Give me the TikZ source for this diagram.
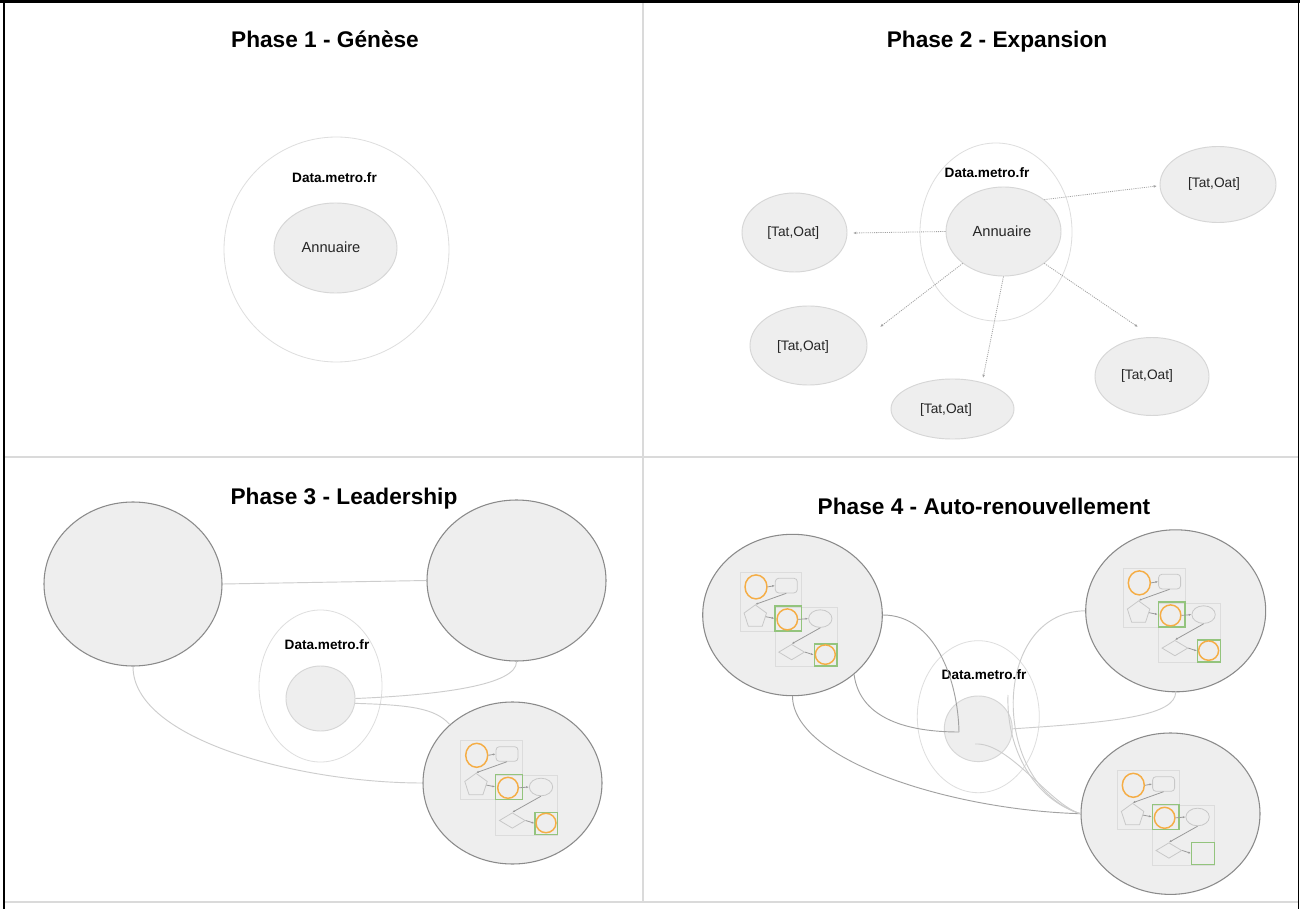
\documentclass[tikz,border=0pt]{standalone}
\usepackage{fontspec}
\setmainfont{Liberation Sans}
\usetikzlibrary{shapes.geometric, arrows.meta}
\definecolor{fillg}{HTML}{EEEEEE}
\definecolor{edgeL}{HTML}{D6D6D6}
\definecolor{ringc}{HTML}{DEDEDE}
\definecolor{bigedge}{HTML}{8A8A8A}
\definecolor{connL}{HTML}{CDCDCD}
\definecolor{connD}{HTML}{A2A2A2}
\definecolor{orangec}{HTML}{F5AD45}
\definecolor{greenc}{HTML}{93C47D}
\definecolor{divc}{HTML}{DADADA}
\definecolor{mboxc}{HTML}{DCDCDC}
\definecolor{mshapec}{HTML}{C8C8C8}
\definecolor{marrowc}{HTML}{9A9A9A}
\tikzset{
  ell/.style 2 args={ellipse, inner sep=0pt, minimum width=#1*1.5pt, minimum height=#2*1.5pt},
  ring/.style={draw=ringc, line width=0.6pt},
  innerell/.style={fill=fillg, draw=edgeL, line width=0.7pt},
  big/.style={fill=fillg, draw=bigedge, line width=0.8pt},
  title/.style={font=\fontsize{17}{20}\selectfont\bfseries, anchor=base, inner sep=0pt},
  dlabel/.style={font=\fontsize{10.2}{12}\selectfont\bfseries, anchor=base, inner sep=0pt},
  ann/.style={font=\fontsize{11}{13}\selectfont, anchor=base, inner sep=0pt, text=black!85},
  tat/.style={font=\fontsize{10.3}{12}\selectfont, anchor=base, inner sep=0pt, text=black!85},
  p2c/.style={draw=connD, line width=0.6pt, dash pattern=on 0.8pt off 0.8pt, -{Latex[length=2.5pt,width=2pt]}},
  cL/.style={draw=connL, line width=0.7pt},
  cD/.style={draw=connD, line width=0.7pt},
  mbox/.style={draw=mboxc, line width=0.6pt, rectangle, inner sep=0pt},
  mshape/.style={draw=mshapec, line width=0.6pt, inner sep=0pt},
  orc/.style={draw=orangec, line width=1.1pt},
  grs/.style={draw=greenc, line width=0.9pt, rectangle, inner sep=0pt},
  marrow/.style={draw=marrowc, line width=0.6pt, -{Latex[length=2pt,width=1.6pt]}},
  pics/mini/.style={code={
    \node[mbox, minimum width=61.6*0.75pt, minimum height=58.6*0.75pt] (-b1) at (30.8,29.3) {};
    \node[mbox, minimum width=62*0.75pt, minimum height=59.7*0.75pt] (-b2) at (66,64.45) {};
    \node[orc, ell={11}{12}] (-c1) at (16,14.6) {};
    \node[mshape, rectangle, rounded corners=2.5pt, minimum width=22*0.75pt, minimum height=14.6*0.75pt] (-r1) at (46.3,13.3) {};
    \node[mshape, regular polygon, regular polygon sides=5, minimum size=23.6*0.75pt] (-p1) at (15.3,44.4) {};
    \node[grs, minimum width=26.6*0.75pt, minimum height=25*0.75pt] (-s1) at (48.3,46.1) {};
    \node[orc, ell={10.3}{10.5}] (-c2) at (47.3,47.1) {};
    \node[mshape, ell={11.7}{8.8}] (-e1) at (80.3,46.3) {};
    \node[mshape, diamond, minimum width=26*0.75pt, minimum height=15.6*0.75pt] (-d1) at (51.6,79.8) {};
    \node[grs, minimum width=22.7*0.75pt, minimum height=22*0.75pt] (-s2) at (85.6,82.6) {};
    \ifnum#1=1 \node[orc, ell={10}{9.7}] (-c3) at (85.3,82.3) {};\fi
    \draw[marrow] (-c1.east) -- (-r1.west);
    \draw[marrow] (-r1.south) -- (-p1.corner 1);
    \draw[marrow] (-p1.east) -- (-s1.west);
    \draw[marrow] (-c2.east) -- (-e1.west);
    \draw[marrow] (-e1.south) -- (-d1.north);
    \draw[marrow] (-d1.east) -- (-s2.west);
  }}
}
\begin{document}
\begin{tikzpicture}[x=0.75pt,y=-0.75pt]
\useasboundingbox (0,0) rectangle (1300,909);
\fill[white] (0,0) rectangle (1300,909);
% frame
\draw[divc, line width=0.9pt] (643,3) -- (643,902);
\draw[divc, line width=0.9pt] (4,457) -- (1298,457);
\draw[divc, line width=0.9pt] (4,902) -- (1298,902);
\draw[black, line width=2.2pt] (0,1.5) -- (1300,1.5);
\draw[black, line width=1.1pt] (4,0) -- (4,909);
\draw[black, line width=1.1pt] (1298.5,0) -- (1298.5,909);

% ---------- Phase 1
\node[title] (t1) at (325,48) {Phase 1 - Génèse};
\node[ring, ell={112.5}{112.5}] (R1) at (336.5,249.5) {};
\node[dlabel] (d1) at (334.5,183) {Data.metro.fr};
\node[innerell, ell={61.5}{45}] (A1) at (335.5,248) {};
\node[ann] (a1) at (331,253) {Annuaire};

% ---------- Phase 2
\node[title] (t2) at (997,48) {Phase 2 - Expansion};
\node[ring, ell={76}{89}] (R2) at (996,232) {};
\node[innerell, ell={57.5}{44.5}] (A2) at (1003.5,231.5) {};
\node[dlabel] (d2) at (987,178) {Data.metro.fr};
\node[ann] (a2) at (1002,237) {Annuaire};
\node[innerell, ell={52.5}{39.5}] (S1) at (794.5,232.5) {};
\node[tat] (s1t) at (793.3,237) {[Tat,Oat]};
\node[innerell, ell={58}{38}] (S2) at (1218,184.5) {};
\node[tat] (s2t) at (1214,188) {[Tat,Oat]};
\node[innerell, ell={58.5}{39.5}] (S3) at (808.5,345.5) {};
\node[tat] (s3t) at (803,351) {[Tat,Oat]};
\node[innerell, ell={61.5}{30}] (S4) at (952.5,409) {};
\node[tat] (s4t) at (946,413.5) {[Tat,Oat]};
\node[innerell, ell={57}{39}] (S5) at (1152,376.5) {};
\node[tat] (s5t) at (1147,380) {[Tat,Oat]};
\coordinate (e1) at (853,233);
\coordinate (e2) at (1157,186);
\coordinate (e3) at (880,327);
\coordinate (e4) at (983,378);
\coordinate (e5) at (1138,327);
\draw[p2c] (A2.west) -- (e1);
\draw[p2c] (A2.38) -- (e2);
\draw[p2c] (A2.218) -- (e3);
\draw[p2c] (A2.south) -- (e4);
\draw[p2c] (A2.322) -- (e5);

% ---------- Phase 3
\node[title] (t3) at (344,504) {Phase 3 - Leadership};
\node[big, ell={89}{82}] (L3) at (133,584) {};
\node[big, ell={89.5}{80.5}] (R3) at (516.5,580.5) {};
\node[big, ell={89.5}{81}] (B3) at (512.5,783) {};
\node[ring, ell={61.5}{76}] (D3) at (320.5,686) {};
\node[innerell, ell={34.5}{32.5}] (C3) at (320.5,698.5) {};
\node[dlabel] (d3) at (327,649) {Data.metro.fr};
\pic (m3) at (460.7,740.7) {mini=1};
\draw[cL] (L3.east) -- (R3.west);
\draw[cL] (L3.south) .. controls (133,740) and (300,783) .. (B3.west);
\draw[cL] (C3.east) .. controls (440,695) and (517,685) .. (R3.south);
\draw[cL] (C3.-8) .. controls (410,705) and (435,708) .. (B3.137);

% ---------- Phase 4
\node[title] (t4) at (984,514) {Phase 4 - Auto-renouvellement};
\node[big, ell={89.8}{80.7}] (L4) at (792.5,615) {};
\node[big, ell={90}{81}] (R4) at (1175.7,610.8) {};
\node[big, ell={89.5}{80.7}] (B4) at (1170.5,813.7) {};
\node[ring, ell={61}{76}] (D4) at (978.3,716.7) {};
\node[innerell, ell={34}{32.8}] (C4) at (978.3,728.8) {};
\node[dlabel] (d4) at (984,679) {Data.metro.fr};
\pic (m4a) at (740,572.3) {mini=1};
\pic (m4b) at (1123.3,568.3) {mini=1};
\pic (m4c) at (1117.3,770.7) {mini=0};
\coordinate (p4a) at (959,732);
\coordinate (p4d) at (975,744);
\coordinate (p4f) at (1008,695);
\draw[cD] (L4.east) .. controls (935,615) and (958,680) .. (p4a);
\draw[cD] (L4.-44) .. controls (860,720) and (910,732) .. (p4a);
\draw[cD] (L4.south) .. controls (793,760) and (950,810) .. (B4.west);
\draw[cL] (p4d) .. controls (1010,742) and (1050,805) .. (B4.west);
\draw[cL] (R4.west) .. controls (990,612) and (990,785) .. (B4.west);
\draw[cL] (B4.west) .. controls (1035,800) and (1006,750) .. (p4f);
\draw[cL] (C4.east) .. controls (1120,722) and (1175,715) .. (R4.south);
\end{tikzpicture}
\end{document}
